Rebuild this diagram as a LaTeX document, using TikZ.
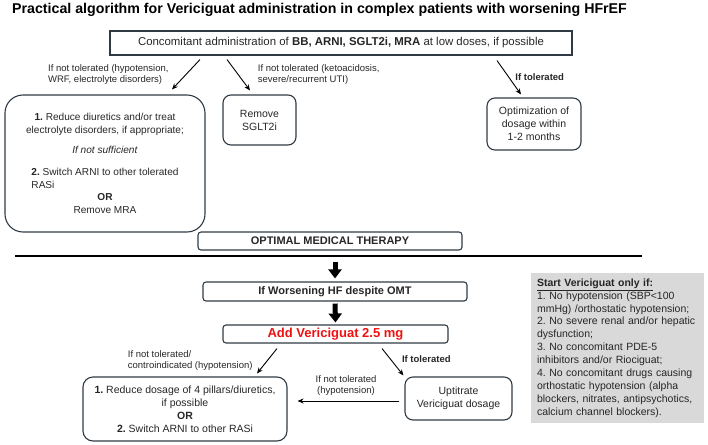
\documentclass[tikz,border=0pt]{standalone}
\usepackage{fontspec}
\setmainfont{Liberation Sans}
\usetikzlibrary{arrows.meta, positioning, calc}
\definecolor{frame}{RGB}{47,58,68}
\definecolor{ink}{RGB}{38,38,38}
\definecolor{alert}{RGB}{240,16,16}
\definecolor{note}{RGB}{217,217,217}
\frenchspacing

\begin{document}
\begin{tikzpicture}[x=1pt, y=-1pt,
    box/.style={rectangle, draw=frame, line width=1.1pt, text=ink,
                font=\fontsize{10.5}{12.9}\selectfont, align=center, inner sep=0pt},
    rbox/.style={box, rounded corners=8pt},
    bar/.style={box, rounded corners=3pt, font=\bfseries\fontsize{11}{13}\selectfont},
    lbl/.style={text=ink, font=\fontsize{9.5}{11}\selectfont, align=left, inner sep=0pt},
    arr/.style={-{Stealth[length=6pt,width=5pt]}, line width=0.9pt, draw=black},
    fat/.style={-{Triangle[length=9pt,width=13pt]}, line width=5pt, draw=black}
  ]
  \useasboundingbox (0,0) rectangle (708,444);

  \node[anchor=base west, inner sep=0pt, font=\bfseries\fontsize{14.2}{16}\selectfont] (title) at (12,13.5)
    {Practical algorithm for Vericiguat administration in complex patients with worsening HFrEF};

  % upper part
  \node[box, minimum width=462pt, minimum height=24pt, font=\fontsize{11.4}{13}\selectfont] (conc) at (341,43)
    {Concomitant administration of \textbf{BB, ARNI, SGLT2i, MRA} at low doses, if possible};
  \node[box, rounded corners=18pt, minimum width=200pt, minimum height=137pt,
        font=\fontsize{10.1}{12.9}\selectfont] (adjust) at (105,163.5)
    {\textbf{1.} Reduce diuretics and/or treat\\
     electrolyte disorders, if appropriate;\\[7pt]
     \textit{If not sufficient}\\[12pt]
     \begin{tabular}{@{}l@{}}\textbf{2.} Switch ARNI to other tolerated\\RASi\end{tabular}\\
     \textbf{OR}\\
     Remove MRA};
  \node[rbox, minimum width=73pt, minimum height=50pt] (sglt) at (259.5,120) {Remove\\SGLT2i};
  \node[rbox, minimum width=94pt, minimum height=52pt] (optim) at (534,124) {Optimization of\\dosage within\\1-2 months};

  \draw[arr] ([xshift=-141pt,yshift=-4pt]conc.south) -- ([xshift=67pt,yshift=5pt]adjust.north)
    node[lbl, midway, left=17pt] {If not tolerated (hypotension,\\WRF, electrolyte disorders)};
  \draw[arr] ([xshift=-114pt,yshift=-4pt]conc.south) -- ([xshift=-9.5pt,yshift=4pt]sglt.north)
    node[lbl, midway, right=19pt] {If not tolerated (ketoacidosis,\\severe/recurrent UTI)};
  \draw[arr] ([xshift=156pt,yshift=-5pt]conc.south) -- ([xshift=-13pt,yshift=3pt]optim.north)
    node[lbl, midway, right=6pt, font=\bfseries\fontsize{9.5}{11}\selectfont] {If tolerated};

  \node[bar, minimum width=264pt, minimum height=18pt] (omt) at (330,241) {OPTIMAL MEDICAL THERAPY};
  \draw[line width=1.8pt] (15,256) -- (642,256);

  % lower part
  \node[bar, minimum width=264pt, minimum height=19pt] (worse) at (335,291.5) {If Worsening HF despite OMT};
  \node[bar, minimum width=225pt, minimum height=18pt, text=alert,
        font=\bfseries\fontsize{13}{15}\selectfont] (vici) at (335.5,334) {Add Vericiguat 2.5 mg};
  \draw[fat] ($(omt.south -| worse.north)+(0,11)$) -- ($(worse.north)+(0,-3)$);
  \draw[fat] ($(worse.south)+(0,2)$) -- ($(vici.north)+(0,-2)$);

  \node[box, rounded corners=10pt, minimum width=204pt, minimum height=64pt] (reduce) at (185,409)
    {\textbf{1.} Reduce dosage of 4 pillars/diuretics,\\
     if possible\\
     \textbf{OR}\\
     \textbf{2.} Switch ARNI to other RASi};
  \node[rbox, minimum width=107pt, minimum height=43pt] (uptit) at (458.5,398.5) {Uptitrate\\Vericiguat dosage};

  \draw[arr] ([xshift=-58.5pt,yshift=-5pt]vici.south) -- ([xshift=72pt,yshift=3pt]reduce.north)
    node[lbl, midway, left=14pt] {If not tolerated/\\controindicated (hypotension)};
  \draw[arr] ([xshift=46.5pt,yshift=-5pt]vici.south) -- ([xshift=-1pt,yshift=1pt]uptit.north west)
    node[lbl, pos=0.4, right=11pt, font=\bfseries\fontsize{9.5}{11}\selectfont] {If tolerated};
  \draw[arr, shorten <=5pt, shorten >=10pt] ([yshift=-2.5pt]uptit.west) -- ([yshift=-2.5pt]uptit.west -| reduce.east)
    node[lbl, midway, above=5pt, align=center] {If not tolerated\\(hypotension)};

  \node[fill=note, text=ink, inner xsep=6pt, inner ysep=0pt, text width=161pt, minimum height=150pt,
        align=left, font=\fontsize{10.5}{12.9}\selectfont] (crit) at (617.5,348)
    {\underline{\textbf{Start Vericiguat only if:}}\\
     1. No hypotension (SBP<100\\
     mmHg) /orthostatic hypotension;\\
     2. No severe renal and/or hepatic\\
     dysfunction;\\
     3. No concomitant PDE-5\\
     inhibitors and/or Riociguat;\\
     4. No concomitant drugs causing\\
     orthostatic hypotension (alpha\\
     blockers, nitrates, antipsychotics,\\
     calcium channel blockers).};
\end{tikzpicture}
\end{document}
